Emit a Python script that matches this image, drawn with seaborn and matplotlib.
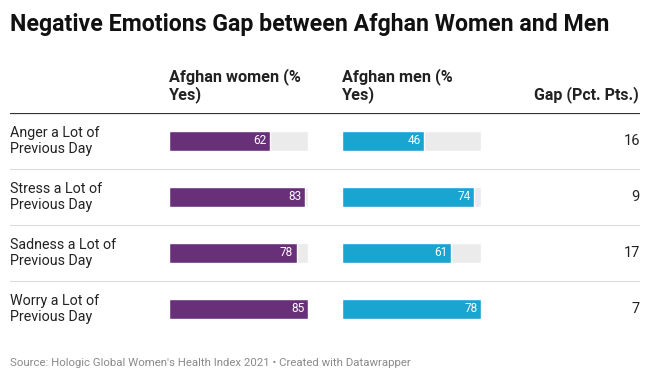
import seaborn as sns
import matplotlib.pyplot as plt
import pandas as pd

# chart data
emotions = ['Anger a Lot of\nPrevious Day', 'Stress a Lot of\nPrevious Day',
            'Sadness a Lot of\nPrevious Day', 'Worry a Lot of\nPrevious Day']
women = [62, 83, 78, 85]
men = [46, 74, 61, 78]
gap = [16, 9, 17, 7]

title = 'Negative Emotions Gap between Afghan Women and Men'
source = "Source: Hologic Global Women's Health Index 2021 • Created with Datawrapper"

PURPLE = '#69307A'
BLUE = '#1AA4D0'
TRACK = '#EBEBEB'

sns.set_theme(style='white')
plt.rcParams['font.family'] = ['Roboto', 'DejaVu Sans']

W, H = 650, 381
fig = plt.figure(figsize=(W / 100, H / 100), dpi=100)


def fx(px):
    return px / W


def fy(px):
    return 1 - px / H


top, bottom = 113, 337
ax_h = (bottom - top) / H
ax_b = fy(bottom)

df = pd.DataFrame({'emotion': emotions, 'women': women, 'men': men, 'gap': gap})

# background table axis (lines + text)
ax = fig.add_axes([fx(10), ax_b, fx(630), ax_h])
ax.set_xlim(0, 1)
ax.set_ylim(3.5, -0.5)
ax.axis('off')
ax.axhline(-0.5, color='#333333', lw=1.6)
for y in [0.5, 1.5, 2.5]:
    ax.axhline(y, color='#dddddd', lw=0.8)
for i, row in df.iterrows():
    ax.text(0, i, row['emotion'], ha='left', va='center', fontsize=10.3,
            color='#222222', linespacing=1.12)
    ax.text(1, i, f"{row['gap']}", ha='right', va='center', fontsize=10.5,
            color='#222222')

bar_h = 20 / 56


def bar_column(x0, x1, col, color):
    a = fig.add_axes([fx(x0), ax_b, fx(x1 - x0), ax_h])
    vmax = df[col].max()
    track = pd.DataFrame({'emotion': emotions, 'v': [vmax] * len(emotions)})
    sns.barplot(data=track, x='v', y='emotion', color=TRACK, width=bar_h,
                ax=a, saturation=1)
    sns.barplot(data=df, x=col, y='emotion', color=color, width=bar_h,
                ax=a, saturation=1)
    a.set_xlim(0, vmax)
    a.set_ylim(3.5, -0.5)
    a.axis('off')
    px_per = (x1 - x0) / vmax
    for i, v in enumerate(df[col]):
        a.text(v - 3.5 / px_per, i, str(v), ha='right', va='center',
               fontsize=8.5, color='white')
    return a


bar_column(169, 308, 'women', PURPLE)
bar_column(342, 481, 'men', BLUE)

# headers
fig.text(fx(10), fy(24), title, ha='left', va='center', fontsize=16.7,
         fontweight='bold', color='#111111')
fig.text(fx(169), fy(85.5), 'Afghan women (%\nYes)', ha='left', va='center',
         fontsize=11.7, fontweight='bold', color='#222222', linespacing=1.08)
fig.text(fx(342), fy(85.5), 'Afghan men (%\nYes)', ha='left', va='center',
         fontsize=11.7, fontweight='bold', color='#222222', linespacing=1.08)
fig.text(fx(639), fy(95), 'Gap (Pct. Pts.)', ha='right', va='center',
         fontsize=11.5, fontweight='bold', color='#222222')
fig.text(fx(10), fy(363), source, ha='left', va='center', fontsize=8.2,
         color='#8a8a8a')

fig.savefig('out.png', dpi=100)
